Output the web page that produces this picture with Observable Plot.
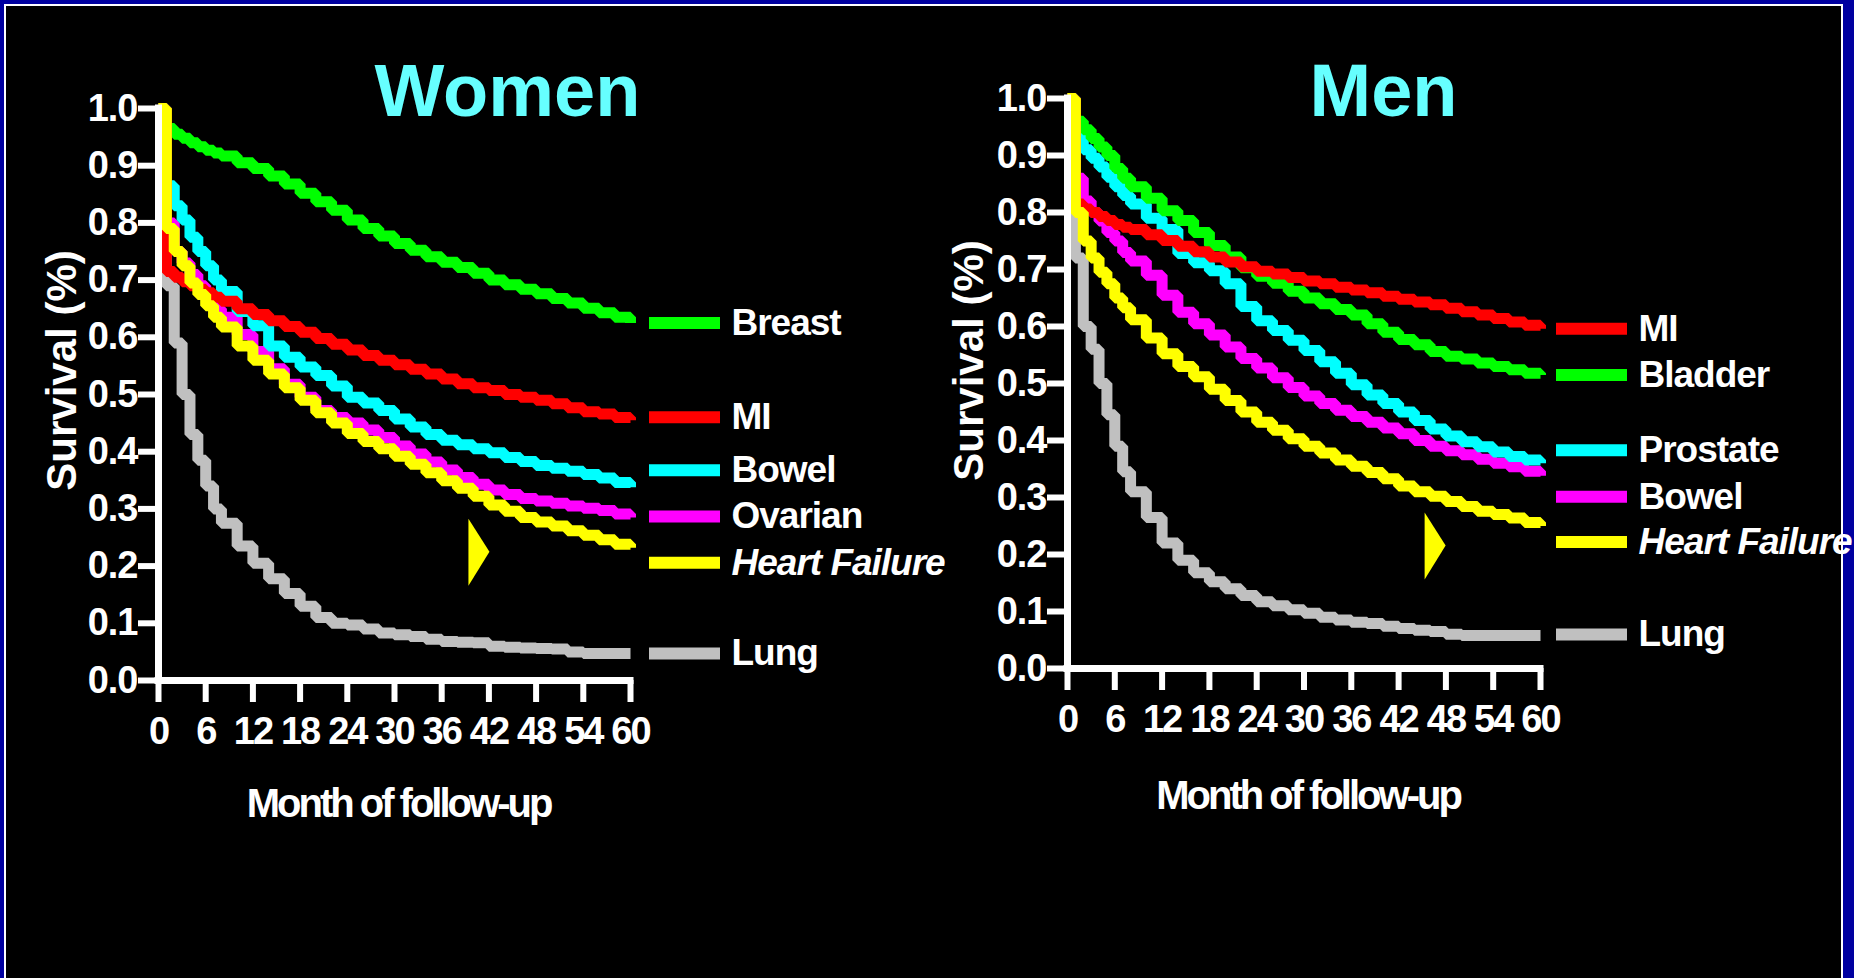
<!DOCTYPE html>
<html>
<head>
<meta charset="utf-8">
<script src="https://cdn.jsdelivr.net/npm/d3@7"></script>
<script src="https://cdn.jsdelivr.net/npm/@observablehq/plot@0.6"></script>
<style>
  html, body { margin: 0; padding: 0; width: 1854px; height: 978px; overflow: hidden; background: #000000; }
  .blue { position: absolute; background: #0000a0; }
  .white { position: absolute; background: #ffffff; }
  .panel { position: absolute; top: 0; }
</style>
</head>
<body>
<div class="blue" style="left:0;top:0;width:1854px;height:4px"></div>
<div class="blue" style="left:0;top:0;width:4px;height:978px"></div>
<div class="blue" style="left:1843px;top:0;width:11px;height:978px"></div>
<div class="white" style="left:4px;top:4px;width:1839px;height:2px"></div>
<div class="white" style="left:4px;top:4px;width:2px;height:974px"></div>
<div class="white" style="left:1841px;top:4px;width:2px;height:974px"></div>
<div id="women" class="panel" style="left:0px"></div>
<div id="men" class="panel" style="left:925px"></div>
<script>
// ---------- data ----------
const months = [0,1,2,3,4,5,6,7,8,10,12,14,16,18,20,22,24,26,28,30,32,34,36,38,40,42,44,46,48,50,52,54,56,58,60];

const womenBreast  = [1.0,0.965,0.955,0.948,0.94,0.933,0.927,0.922,0.917,0.905,0.895,0.882,0.868,0.852,0.837,0.822,0.805,0.79,0.777,0.764,0.752,0.741,0.731,0.722,0.712,0.70,0.692,0.684,0.676,0.668,0.66,0.651,0.643,0.635,0.625];
const womenMI      = [1.0,0.715,0.705,0.697,0.69,0.684,0.678,0.67,0.663,0.65,0.64,0.629,0.619,0.609,0.598,0.588,0.578,0.568,0.56,0.552,0.544,0.536,0.527,0.519,0.512,0.507,0.50,0.495,0.49,0.484,0.477,0.47,0.466,0.46,0.455];
const womenBowel   = [1.0,0.865,0.83,0.805,0.775,0.75,0.725,0.7,0.68,0.645,0.62,0.585,0.565,0.548,0.533,0.515,0.495,0.485,0.472,0.457,0.443,0.43,0.42,0.412,0.405,0.398,0.39,0.383,0.376,0.371,0.366,0.36,0.354,0.346,0.338];
const womenOvarian = [1.0,0.8,0.75,0.73,0.71,0.69,0.67,0.65,0.635,0.605,0.575,0.545,0.518,0.495,0.472,0.46,0.45,0.438,0.425,0.41,0.396,0.382,0.368,0.355,0.343,0.333,0.325,0.318,0.314,0.31,0.305,0.301,0.297,0.291,0.285];
const womenHF      = [1.0,0.79,0.75,0.725,0.695,0.675,0.655,0.635,0.618,0.585,0.56,0.536,0.512,0.49,0.468,0.45,0.432,0.418,0.405,0.392,0.378,0.363,0.349,0.336,0.322,0.307,0.296,0.285,0.277,0.27,0.262,0.254,0.246,0.238,0.232];
const womenLung    = [1.0,0.69,0.59,0.5,0.43,0.385,0.34,0.3,0.275,0.235,0.205,0.178,0.152,0.13,0.11,0.1,0.097,0.09,0.083,0.08,0.077,0.072,0.068,0.067,0.066,0.06,0.058,0.057,0.056,0.055,0.05,0.047,0.047,0.047,0.047];

const menMI       = [1.0,0.815,0.806,0.80,0.793,0.786,0.779,0.774,0.77,0.761,0.751,0.741,0.731,0.722,0.713,0.705,0.697,0.692,0.686,0.68,0.675,0.669,0.664,0.659,0.653,0.648,0.643,0.638,0.632,0.626,0.62,0.614,0.608,0.602,0.596];
const menBladder  = [1.0,0.96,0.945,0.93,0.915,0.9,0.877,0.86,0.845,0.825,0.803,0.786,0.765,0.742,0.722,0.703,0.688,0.676,0.662,0.65,0.64,0.63,0.62,0.605,0.59,0.577,0.568,0.556,0.548,0.543,0.536,0.53,0.524,0.518,0.515];
const menProstate = [1.0,0.935,0.91,0.895,0.88,0.862,0.845,0.83,0.815,0.79,0.77,0.728,0.712,0.698,0.675,0.635,0.61,0.593,0.576,0.558,0.538,0.518,0.498,0.48,0.465,0.45,0.435,0.42,0.408,0.398,0.389,0.38,0.372,0.366,0.36];
const menBowel    = [1.0,0.86,0.82,0.80,0.785,0.765,0.75,0.73,0.715,0.69,0.655,0.625,0.605,0.585,0.564,0.544,0.527,0.51,0.493,0.478,0.465,0.453,0.442,0.432,0.422,0.412,0.40,0.39,0.382,0.375,0.367,0.36,0.354,0.346,0.338];
const menHF       = [1.0,0.80,0.75,0.72,0.695,0.675,0.65,0.633,0.612,0.58,0.552,0.53,0.512,0.49,0.47,0.45,0.432,0.418,0.403,0.39,0.378,0.366,0.355,0.344,0.333,0.32,0.31,0.302,0.293,0.284,0.276,0.27,0.264,0.256,0.25];
const menLung     = [1.0,0.72,0.6,0.56,0.5,0.445,0.39,0.345,0.31,0.265,0.22,0.19,0.168,0.152,0.14,0.128,0.117,0.11,0.103,0.097,0.09,0.085,0.081,0.079,0.074,0.07,0.067,0.065,0.06,0.058,0.058,0.058,0.058,0.058,0.058];

const womenLabels = ["Breast", "MI", "Bowel", "Ovarian", "Heart Failure", "Lung"];
const menLabels   = ["MI", "Bladder", "Prostate", "Bowel", "Heart Failure", "Lung"];

const xTicks = [0, 6, 12, 18, 24, 30, 36, 42, 48, 54, 60];
const yTicks = [0, 0.1, 0.2, 0.3, 0.4, 0.5, 0.6, 0.7, 0.8, 0.9, 1.0];

const womenArrow = [{month: 39.4, survival: 0.225}];
const menArrow   = [{month: 45.3, survival: 0.216}];

// ---------- styles ----------
const C = {green: "#00ff00", red: "#ff0000", cyan: "#00ffff", magenta: "#ff00ff", yellow: "#ffff00", gray: "#c0c0c0"};
const drawOrder = [C.gray, C.magenta, C.cyan, C.green, C.red, C.yellow];
const FONT = "'Liberation Sans', Arial, Helvetica, sans-serif";

const arrowSymbol = {
  draw(ctx) { ctx.moveTo(0, -33); ctx.lineTo(21, 0); ctx.lineTo(0, 34); ctx.closePath(); }
};

function panel(cfg) {
  const series = cfg.values.map((vals, i) => ({
    name: cfg.labels[i], color: cfg.colors[i], nudge: cfg.nudges[i],
    rows: months.map((m, j) => ({month: m, survival: vals[j]}))
  }));
  const ordered = [...series].sort((a, b) => drawOrder.indexOf(a.color) - drawOrder.indexOf(b.color));
  const legendMarks = series.flatMap(s => {
    const last = [s.rows[s.rows.length - 1]];
    return [
      Plot.ruleY(last, {y: "survival", x1: 60, x2: 60, insetLeft: cfg.legLine[0], insetRight: -cfg.legLine[1],
        dy: s.nudge, stroke: s.color, strokeWidth: 12}),
      Plot.text(last, {x: 60, y: "survival", text: () => s.name, dx: cfg.legText, dy: s.nudge,
        textAnchor: "start", lineAnchor: "middle", fill: "white", fontSize: 37, fontWeight: "bold",
        fontStyle: s.name === "Heart Failure" ? "italic" : "normal"})
    ];
  });
  const svg = Plot.plot({
    width: cfg.width, height: 900,
    marginLeft: cfg.ml, marginRight: cfg.mr, marginTop: cfg.mt, marginBottom: cfg.mb,
    x: {domain: [0, 60]},
    y: {domain: [0, 1]},
    style: `background: transparent; overflow: visible; max-width: none; font-family: ${FONT}; font-weight: bold; color: white;`,
    marks: [
      ...ordered.map(s => Plot.line(s.rows, {x: "month", y: "survival", curve: "step-after",
        stroke: s.color, strokeWidth: 11, strokeLinejoin: "miter", strokeLinecap: "butt"})),
      Plot.dot(cfg.arrow, {x: "month", y: "survival", symbol: arrowSymbol, fill: C.yellow, stroke: "none"}),
      Plot.ruleY([0], {stroke: "white", strokeWidth: 7, strokeLinecap: "square"}),
      Plot.ruleX([0], {stroke: "white", strokeWidth: 7, strokeLinecap: "square"}),
      Plot.axisX(xTicks, {anchor: "bottom", tickSize: 22, tickPadding: 15, stroke: "white", strokeWidth: 6,
        fill: "white", fontSize: 38, fontWeight: "bold", label: null, tickFormat: d => String(d)}),
      Plot.axisY(yTicks, {anchor: "left", tickSize: 20, tickPadding: 1, stroke: "white", strokeWidth: 6,
        fill: "white", fontSize: 38, fontWeight: "bold", label: null, tickFormat: d => d.toFixed(1)}),
      ...legendMarks,
      Plot.text([cfg.title], {frameAnchor: "top-left", dx: cfg.titleDx, dy: cfg.titleDy, textAnchor: "middle",
        lineAnchor: "bottom", fill: "#66ffff", fontSize: 74, fontWeight: "bold"}),
      Plot.text(["Month of follow-up"], {frameAnchor: "bottom", dx: 4, dy: cfg.xlabDy, lineAnchor: "bottom",
        textAnchor: "middle", fill: "white", fontSize: 40, fontWeight: "bold"}),
      Plot.text(["Survival (%)"], {frameAnchor: "left", dx: -cfg.ylabDx, dy: cfg.ylabDy, rotate: -90,
        textAnchor: "middle", lineAnchor: "middle", fill: "white", fontSize: 42, fontWeight: "bold"})
    ]
  });
  const s = d3.select(svg);
  s.selectAll('g[aria-label="x-axis tick label"] text').style("letter-spacing", "-2px");
  s.selectAll('g[aria-label="y-axis tick label"] text').style("letter-spacing", "-1px");
  s.selectAll("text").each(function() {
    const t = this.textContent;
    if (t === "Month of follow-up") this.style.letterSpacing = "-3px";
    else if (cfg.labels.includes(t)) this.style.letterSpacing = "-1px";
  });
  return svg;
}

document.getElementById("women").appendChild(panel({
  title: "Women",
  values: [womenBreast, womenMI, womenBowel, womenOvarian, womenHF, womenLung],
  labels: womenLabels,
  colors: [C.green, C.red, C.cyan, C.magenta, C.yellow, C.gray],
  nudges: [0, -3, -17, -1, 15, 0],
  arrow: womenArrow,
  width: 925, ml: 158, mr: 295, mt: 108, mb: 220,
  legLine: [19, 90], legText: 101,
  titleDx: 349, titleDy: 7, xlabDy: 136, ylabDx: 96, ylabDy: -24
}));

document.getElementById("men").appendChild(panel({
  title: "Men",
  values: [menMI, menBladder, menProstate, menBowel, menHF, menLung],
  labels: menLabels,
  colors: [C.red, C.green, C.cyan, C.magenta, C.yellow, C.gray],
  nudges: [0, 0, -13, 21, 16, -1],
  arrow: menArrow,
  width: 929, ml: 142, mr: 314, mt: 98, mb: 232,
  legLine: [16, 87], legText: 98,
  titleDx: 316, titleDy: 17, xlabDy: 140, ylabDx: 98, ylabDy: -23
}));
</script>
</body>
</html>
